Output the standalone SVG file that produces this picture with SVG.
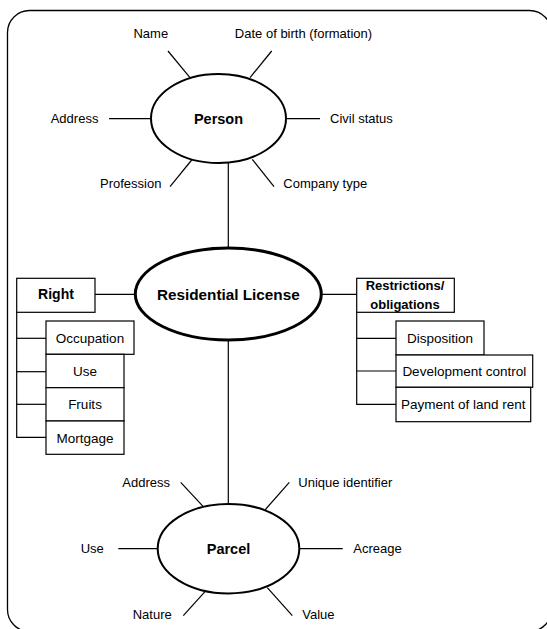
<svg xmlns="http://www.w3.org/2000/svg" width="547" height="629" viewBox="0 0 547 629">
<style>
text{font-family:"Liberation Sans",Arial,sans-serif;fill:#000}
.t{font-size:13px}
.tl{font-size:13.5px;text-anchor:middle}
.b{font-weight:bold;text-anchor:middle}
.ln{stroke:#000;stroke-width:1.2;fill:none}
.box{fill:#fff;stroke:#000;stroke-width:1.2}
.el{fill:#fff;stroke:#000;stroke-width:2}
</style>
<rect x="7.5" y="10.5" width="544" height="621" rx="22" ry="22" fill="#fff" stroke="#000" stroke-width="1.3"/>
<g id="connectors">
<line class="ln" x1="168" y1="51" x2="190" y2="77.7"/>
<line class="ln" x1="271.7" y1="51" x2="250" y2="77.7"/>
<line class="ln" x1="109" y1="118.7" x2="151" y2="118.7"/>
<line class="ln" x1="286" y1="118.7" x2="320" y2="118.7"/>
<line class="ln" x1="170" y1="186.7" x2="191.7" y2="160"/>
<line class="ln" x1="252.3" y1="159.3" x2="274" y2="186.7"/>
<line class="ln" x1="228.3" y1="163" x2="228.3" y2="248"/>
<line class="ln" x1="95" y1="294.3" x2="135" y2="294.3"/>
<line class="ln" x1="321.7" y1="294.3" x2="356.7" y2="294.3"/>
<polyline class="ln" points="16.7,312.3 16.7,437.3 46,437.3"/>
<line class="ln" x1="16.7" y1="338.3" x2="46" y2="338.3"/>
<line class="ln" x1="16.7" y1="371.7" x2="46" y2="371.7"/>
<line class="ln" x1="16.7" y1="404.3" x2="46" y2="404.3"/>
<polyline class="ln" points="356.7,312.3 356.7,404.3 396,404.3"/>
<line class="ln" x1="356.7" y1="338.3" x2="396" y2="338.3"/>
<line class="ln" x1="356.7" y1="371" x2="396" y2="371"/>
<line class="ln" x1="228.3" y1="340" x2="228.3" y2="504"/>
<line class="ln" x1="180.7" y1="482.3" x2="203.3" y2="506.7"/>
<line class="ln" x1="289.3" y1="482.3" x2="265" y2="510"/>
<line class="ln" x1="118.3" y1="548.7" x2="157.7" y2="548.7"/>
<line class="ln" x1="299.3" y1="548.7" x2="342.7" y2="548.7"/>
<line class="ln" x1="183.3" y1="615.7" x2="205" y2="591.7"/>
<line class="ln" x1="267.3" y1="587.7" x2="292.3" y2="615.7"/>
</g>
<g id="person">
<ellipse class="el" cx="218.5" cy="118.5" rx="67.5" ry="44.5"/>
<text class="b" x="218.5" y="123.5" font-size="14.5">Person</text>
</g>
<g id="person-attrs">
<text class="t" x="150.8" y="37.5" text-anchor="middle">Name</text>
<text class="t" x="303.5" y="37.5" text-anchor="middle">Date of birth (formation)</text>
<text class="t" x="50.7" y="123">Address</text>
<text class="t" x="330" y="123">Civil status</text>
<text class="t" x="100" y="188">Profession</text>
<text class="t" x="283.3" y="188">Company type</text>
</g>
<g id="residential-license">
<ellipse cx="228.3" cy="294" rx="93" ry="46" fill="#fff" stroke="#000" stroke-width="3"/>
<text class="b" x="228.3" y="299.5" font-size="15.3">Residential License</text>
</g>
<g id="right">
<rect class="box" x="16.7" y="278.3" width="78.3" height="34"/>
<text class="b" x="56" y="299.3" font-size="14">Right</text>
</g>
<g id="occupation"><rect class="box" x="46" y="321" width="88" height="33.3"/><text class="tl" x="90" y="342.5">Occupation</text></g>
<g id="use"><rect class="box" x="46" y="354.3" width="78" height="33.4"/><text class="tl" x="85" y="376">Use</text></g>
<g id="fruits"><rect class="box" x="46" y="387.7" width="78" height="33.3"/><text class="tl" x="85" y="409">Fruits</text></g>
<g id="mortgage"><rect class="box" x="46" y="421" width="78" height="33.3"/><text class="tl" x="85" y="442.5">Mortgage</text></g>
<g id="restrictions">
<rect class="box" x="356.7" y="278.3" width="97.6" height="34"/>
<text class="b" x="405" y="289.5" font-size="13">Restrictions/</text>
<text class="b" x="405" y="308.8" font-size="13">obligations</text>
</g>
<g id="disposition"><rect class="box" x="396" y="321" width="88" height="34"/><text class="tl" x="440" y="342.5">Disposition</text></g>
<g id="development-control"><rect class="box" x="396" y="355" width="136.7" height="32.3"/><text class="tl" x="464.3" y="375.7">Development control</text></g>
<g id="payment"><rect class="box" x="396" y="387.3" width="134.7" height="34.4"/><text class="tl" x="463.3" y="409">Payment of land rent</text></g>
<g id="parcel">
<ellipse class="el" cx="228.5" cy="548.7" rx="70.8" ry="44.7"/>
<text class="b" x="228.5" y="554" font-size="14.5">Parcel</text>
</g>
<g id="parcel-attrs">
<text class="t" x="122.3" y="487">Address</text>
<text class="t" x="298.3" y="487">Unique identifier</text>
<text class="t" x="80.7" y="553">Use</text>
<text class="t" x="353.3" y="553">Acreage</text>
<text class="t" x="132.7" y="619">Nature</text>
<text class="t" x="302.3" y="619">Value</text>
</g>
</svg>
